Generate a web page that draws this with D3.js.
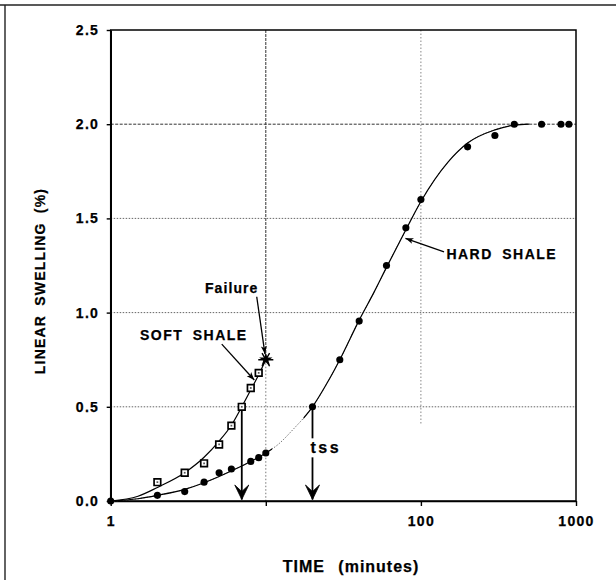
<!DOCTYPE html>
<html>
<head>
<meta charset="utf-8">
<script src="https://cdn.jsdelivr.net/npm/d3@7"></script>
<style>
  html, body { margin: 0; padding: 0; background: #fff; }
  svg { display: block; }
  text { font-family: "Liberation Sans", Arial, Helvetica, sans-serif; font-weight: bold; fill: #000; stroke: #000; stroke-width: 0.25px; }
</style>
</head>
<body>
<svg id="chart" width="616" height="580"></svg>
<script>
// Measured swelling, hard shale (time in minutes, swelling in %)
const hardTime  = [1, 2, 3, 4, 5, 6, 8, 9, 10, 20, 30, 40, 60, 80, 100, 200, 300, 400, 600, 800, 900];
const hardSwell = [0, 0.03, 0.05, 0.10, 0.15, 0.17, 0.21, 0.23, 0.255, 0.50, 0.75, 0.955, 1.25, 1.45, 1.60, 1.88, 1.94, 2.00, 2.00, 2.00, 2.00];

// Measured swelling, soft shale
const softTime  = [2, 3, 4, 5, 6, 7, 8, 9];
const softSwell = [0.10, 0.15, 0.20, 0.30, 0.40, 0.50, 0.60, 0.68];

// Failure of the soft shale sample
const failureTime  = [10];
const failureSwell = [0.75];

// Smoothed trend lines through each data set
const hardFitTime  = [1, 1.5, 2, 3, 4, 5, 6, 8, 10, 12, 15, 20, 25, 30, 40, 50, 60, 80, 100, 150, 200, 300, 400, 500];
const hardFitSwell = [0, 0.012, 0.03, 0.062, 0.097, 0.13, 0.16, 0.21, 0.255, 0.30, 0.38, 0.50, 0.63, 0.75, 0.96, 1.11, 1.24, 1.44, 1.59, 1.80, 1.90, 1.97, 1.995, 2.0];
const softFitTime  = [1, 1.5, 2, 3, 4, 5, 6, 7, 8, 9, 10];
const softFitSwell = [0, 0.025, 0.072, 0.15, 0.232, 0.318, 0.402, 0.50, 0.59, 0.67, 0.75];

// Time to reach 0.5 % swelling (tss) for each shale
const tssTime  = [7, 20];
const tssLevel = 0.5;

// Axis ticks
const xTicks      = [1, 10, 100, 1000];
const xTickLabels = ["1", "", "100", "1000"];
const yTicks      = [0, 0.5, 1.0, 1.5, 2.0, 2.5];
const yGrid       = [0.5, 1.0, 1.5, 2.0];

const svg = d3.select("#chart");

const x = d3.scaleLog().domain([1, 1000]).range([110.7, 576]);
const y = d3.scaleLinear().domain([0, 2.5]).range([501, 30]);

// Outer frame (top and left edges)
svg.append("line").attr("x1", 0).attr("x2", 616).attr("y1", 5).attr("y2", 5)
  .attr("stroke", "#222").attr("stroke-width", 1.4);
svg.append("line").attr("x1", 5).attr("x2", 5).attr("y1", 5).attr("y2", 580)
  .attr("stroke", "#222").attr("stroke-width", 1.4);

// Markers for arrows
const defs = svg.append("defs");
defs.append("marker")
  .attr("id", "bigHead").attr("viewBox", "-16 -8 17 16")
  .attr("refX", 0).attr("refY", 0)
  .attr("markerWidth", 17).attr("markerHeight", 16)
  .attr("markerUnits", "userSpaceOnUse").attr("orient", "auto")
  .append("path").attr("d", "M0,0 L-14.5,-7 L-8,0 L-14.5,7 Z")
  .attr("fill", "#000").attr("stroke", "#000").attr("stroke-width", 0.8)
  .attr("stroke-linejoin", "round");
defs.append("marker")
  .attr("id", "smallHead").attr("viewBox", "-10 -5 11 10")
  .attr("refX", 0).attr("refY", 0)
  .attr("markerWidth", 11).attr("markerHeight", 10)
  .attr("markerUnits", "userSpaceOnUse").attr("orient", "auto")
  .append("path").attr("d", "M0,0 L-8,-3 L-6,0 L-8,3 Z").attr("fill", "#000");

// Faint-segment clip for the hard shale trend line
const clip = defs.append("clipPath").attr("id", "solidPart");
clip.append("rect").attr("x", 0).attr("y", 0).attr("width", x(11)).attr("height", 580);
clip.append("rect").attr("x", x(17.5)).attr("y", 0).attr("width", 616 - x(17.5)).attr("height", 580);

// Grid
const grid = svg.append("g");
grid.selectAll("line.h").data(yGrid).join("line")
  .attr("x1", x(1)).attr("x2", x(1000))
  .attr("y1", d => y(d)).attr("y2", d => y(d))
  .attr("stroke", d => d === 2.0 ? "#333" : "#666")
  .attr("stroke-width", 1)
  .attr("stroke-dasharray", d => d === 2.0 ? "3,1.5" : "1.5,1.5");
grid.append("line")
  .attr("x1", x(10)).attr("x2", x(10)).attr("y1", y(2.5)).attr("y2", y(0.75))
  .attr("stroke", "#333").attr("stroke-width", 1).attr("stroke-dasharray", "3,1");
grid.append("line")
  .attr("x1", x(10)).attr("x2", x(10)).attr("y1", y(0.75)).attr("y2", y(0))
  .attr("stroke", "#777").attr("stroke-width", 1).attr("stroke-dasharray", "1.5,2");
grid.append("line")
  .attr("x1", x(100)).attr("x2", x(100)).attr("y1", y(2.5)).attr("y2", y(0.41))
  .attr("stroke", "#888").attr("stroke-width", 1).attr("stroke-dasharray", "1.5,2");

// Plot border (top and right)
svg.append("rect")
  .attr("x", x(1)).attr("y", y(2.5))
  .attr("width", x(1000) - x(1)).attr("height", y(0) - y(2.5))
  .attr("fill", "none").attr("stroke", "#000").attr("stroke-width", 1.5);

// Axes
const xAxis = svg.append("g").attr("transform", `translate(0,${y(0)})`)
  .call(d3.axisBottom(x).tickValues(xTicks)
    .tickFormat((d, i) => xTickLabels[i])
    .tickSize(5).tickSizeOuter(0).tickPadding(10));
const yAxis = svg.append("g").attr("transform", `translate(${x(1)},0)`)
  .call(d3.axisLeft(y).tickValues(yTicks)
    .tickFormat(d3.format(".1f"))
    .tickSize(4).tickSizeOuter(0).tickPadding(7.5));
[xAxis, yAxis].forEach(g => {
  g.select(".domain").attr("stroke", "#000").attr("stroke-width", 1.6);
  g.selectAll(".tick line").attr("stroke", "#000").attr("stroke-width", 1.4);
  g.selectAll(".tick text")
    .attr("fill", "#000")
    .style("font-family", '"Liberation Sans", Arial, Helvetica, sans-serif')
    .style("font-weight", "bold").style("font-size", "14px")
    .style("letter-spacing", "1.3px");
});

// Axis titles
svg.append("text")
  .attr("x", 351).attr("y", 572).attr("text-anchor", "middle")
  .style("font-size", "16px").style("letter-spacing", "1px").style("word-spacing", "8px")
  .text("TIME (minutes)");
svg.append("text")
  .attr("transform", "translate(45,281) rotate(-90)").attr("text-anchor", "middle")
  .style("font-size", "14px").style("letter-spacing", "1.2px").style("word-spacing", "4px")
  .text("LINEAR SWELLING (%)");

// Trend lines
const line = d3.line().x(d => x(d[0])).y(d => y(d[1])).curve(d3.curveMonotoneX);
const hardFit = d3.zip(hardFitTime, hardFitSwell);
const softFit = d3.zip(softFitTime, softFitSwell);

svg.append("path").datum(hardFit).attr("d", line)
  .attr("fill", "none").attr("stroke", "#777").attr("stroke-width", 1)
  .attr("stroke-dasharray", "1.5,1.5");
svg.append("path").datum(hardFit).attr("d", line)
  .attr("clip-path", "url(#solidPart)")
  .attr("fill", "none").attr("stroke", "#000").attr("stroke-width", 1.2);
svg.append("path").datum(softFit).attr("d", line)
  .attr("fill", "none").attr("stroke", "#000").attr("stroke-width", 1.2);

// tss arrows
svg.selectAll("line.tss").data(tssTime).join("line")
  .attr("x1", d => x(d)).attr("x2", d => x(d))
  .attr("y1", y(tssLevel)).attr("y2", y(0) - 1.5)
  .attr("stroke", "#000").attr("stroke-width", 1.8)
  .attr("marker-end", "url(#bigHead)");

// Data points: hard shale (filled circles)
svg.selectAll("path.hard").data(d3.zip(hardTime, hardSwell)).join("path")
  .attr("transform", d => `translate(${x(d[0])},${y(d[1])})`)
  .attr("d", d3.symbol(d3.symbolCircle, 40))
  .attr("fill", "#000");

// Data points: soft shale (open squares with a centre dot)
const softPts = svg.selectAll("g.soft").data(d3.zip(softTime, softSwell)).join("g")
  .attr("transform", d => `translate(${x(d[0])},${y(d[1])})`);
softPts.append("path").attr("d", d3.symbol(d3.symbolSquare, 44))
  .attr("fill", "#fff").attr("stroke", "#000").attr("stroke-width", 1.7);
softPts.append("path").attr("d", d3.symbol(d3.symbolSquare, 3))
  .attr("fill", "#555");

// Failure marker
const fail = svg.selectAll("g.fail").data(d3.zip(failureTime, failureSwell)).join("g")
  .attr("transform", d => `translate(${x(d[0])},${y(d[1])})`);
fail.append("path").attr("d", d3.symbol(d3.symbolAsterisk, 160))
  .attr("transform", "rotate(90)")
  .attr("fill", "none").attr("stroke", "#000").attr("stroke-width", 1.4);
fail.append("path").attr("d", d3.symbol(d3.symbolStar, 55)).attr("fill", "#000");

// Annotations
function pointer(t0, v0, t1, v1) {
  svg.append("line")
    .attr("x1", x(t0)).attr("y1", y(v0)).attr("x2", x(t1)).attr("y2", y(v1))
    .attr("stroke", "#000").attr("stroke-width", 1.3)
    .attr("marker-end", "url(#smallHead)");
}
function label(t, v, s, opts) {
  const g = svg.append("g");
  const bg = g.append("rect").attr("fill", "#fff");
  const txt = g.append("text").attr("x", x(t)).attr("y", y(v))
    .style("font-size", opts.size + "px")
    .style("letter-spacing", opts.ls + "px")
    .style("word-spacing", (opts.ws || 0) + "px")
    .text(s);
  // white knock-out behind the label so lines underneath break around it
  const b = txt.node().getBBox();
  bg.attr("x", b.x - 1).attr("y", b.y - 1).attr("width", b.width + 2).attr("height", b.height + 2);
  return txt;
}
label(1.545, 0.855, "SOFT SHALE", { size: 14, ls: 1.5, ws: 4 });
pointer(5.2, 0.833, 8.43, 0.642);
label(4.05, 1.106, "Failure", { size: 14, ls: 1.1 });
pointer(8.74, 1.084, 9.88, 0.78);
label(146, 1.283, "HARD SHALE", { size: 14, ls: 1.5, ws: 4 });
pointer(141, 1.322, 79.5, 1.394);
label(19.4, 0.253, "tss", { size: 16, ls: 2.5 });
</script>
</body>
</html>
